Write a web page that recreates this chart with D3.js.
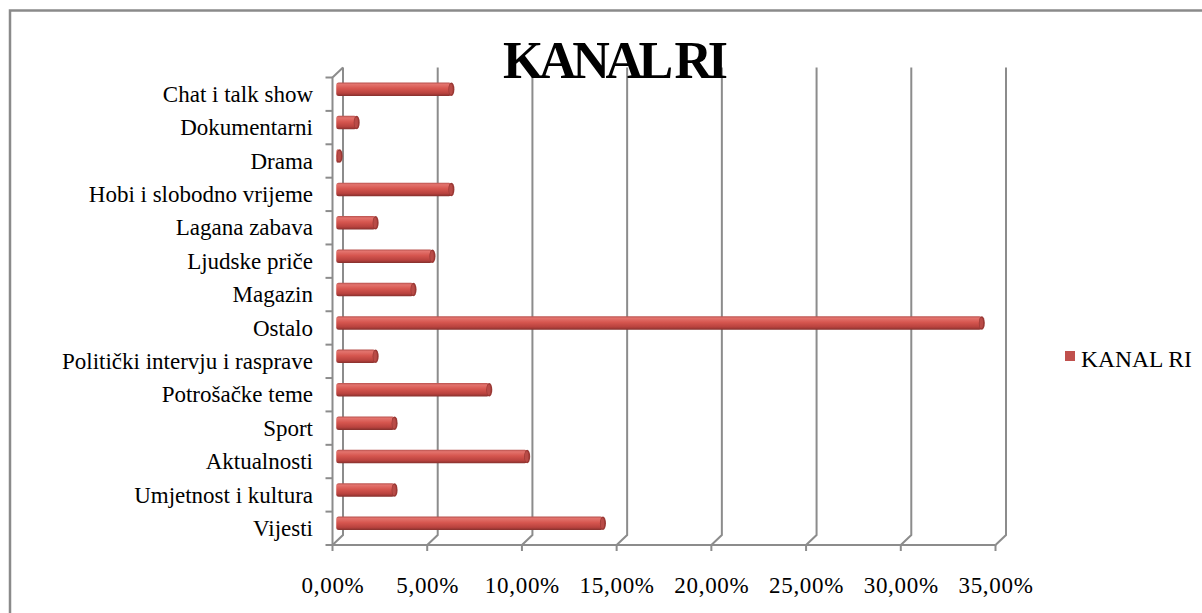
<!DOCTYPE html>
<html lang="hr">
<head>
  <meta charset="UTF-8">
  <title>KANAL RI</title>
  <script src="https://d3js.org/d3.v7.min.js"></script>
  <style>
    body { margin: 0; background: #fff; }
    text { font-family: "Liberation Serif", "Times New Roman", serif; fill: #000; }
    .grid, .axis { stroke: #8c8c8c; stroke-width: 2; fill: none; }
  </style>
</head>
<body>
  <svg width="1202" height="613"></svg>
  <script>
    // Data (percent of programme time)
    const categories = [
      "Chat i talk show", "Dokumentarni", "Drama", "Hobi i slobodno vrijeme",
      "Lagana zabava", "Ljudske priče", "Magazin", "Ostalo",
      "Politički intervju i rasprave", "Potrošačke teme", "Sport",
      "Aktualnosti", "Umjetnost i kultura", "Vijesti"
    ];
    const values = [6, 1, 0.1, 6, 2, 5, 4, 34, 2, 8, 3, 10, 3, 14];
    const xTicks = [0, 5, 10, 15, 20, 25, 30, 35];
    const seriesName = "KANAL RI";
    const chartTitle = "KANAL RI";

    const svg = d3.select("svg");

    // 3D depth offset of the back wall
    const dx = 10.5, dy = -10;

    const x = d3.scaleLinear().domain([0, 35]).range([332.5, 995.5]);
    const y = d3.scaleBand().domain(categories).range([77.5, 545]);
    const yBottom = 545, yTop = 77.5;

    const hr = d3.formatLocale({decimal: ",", thousands: ".", grouping: [3], currency: ["", ""]});
    const fmt = v => hr.format(".2f")(v) + "%";

    // outer frame
    svg.append("rect")
      .attr("x", 10).attr("y", 10.5)
      .attr("width", 1210).attr("height", 620)
      .attr("fill", "none")
      .attr("stroke", "#8a8a8a")
      .attr("stroke-width", 2.5);

    // back wall gridlines with floor diagonals
    const grid = svg.append("g");
    xTicks.forEach(t => {
      grid.append("path")
        .attr("class", "grid")
        .attr("d", `M${x(t)},${yBottom} L${x(t) + dx},${yBottom + dy} L${x(t) + dx},${yTop + dy}`);
    });

    // front axes
    const axis = svg.append("g");
    axis.append("path")
      .attr("class", "axis")
      .attr("d", `M${x(0) + dx},${yTop + dy} L${x(0)},${yTop} L${x(0)},${yBottom} L${x(35)},${yBottom}`);
    // y ticks at band edges
    const edges = categories.map(c => y(c)).concat([yBottom]);
    edges.forEach(e => {
      axis.append("line").attr("class", "axis")
        .attr("x1", x(0) - 7).attr("x2", x(0))
        .attr("y1", e).attr("y2", e);
    });
    xTicks.forEach(t => {
      axis.append("line").attr("class", "axis")
        .attr("x1", x(t)).attr("x2", x(t))
        .attr("y1", yBottom).attr("y2", yBottom + 6);
    });

    // bar gradient (cylinder look)
    const defs = svg.append("defs");
    const grad = defs.append("linearGradient")
      .attr("id", "barGrad").attr("x1", 0).attr("y1", 0).attr("x2", 0).attr("y2", 1);
    [[0, "#b8524e"], [0.15, "#e3736d"], [0.45, "#d6564f"], [0.8, "#b8423e"], [1, "#85302d"]]
      .forEach(([o, c]) => grad.append("stop").attr("offset", o).attr("stop-color", c));

    const barH = 13.5;
    const bars = svg.append("g");
    categories.forEach((c, i) => {
      const cy = y(c) + y.bandwidth() / 2 + dy / 2;
      const x0 = x(0) + dx / 2, x1 = x(values[i]) + dx / 2;
      bars.append("rect")
        .attr("x", x0 - 1.5).attr("y", cy - barH / 2)
        .attr("width", Math.max(x1 - x0, 0) + 1.5).attr("height", barH)
        .attr("rx", 2.5)
        .attr("fill", "url(#barGrad)");
      bars.append("ellipse")
        .attr("cx", x1).attr("cy", cy)
        .attr("rx", 3).attr("ry", barH / 2)
        .attr("fill", "#9a3834");
      bars.append("ellipse")
        .attr("cx", x1 - 0.5).attr("cy", cy)
        .attr("rx", 1.8).attr("ry", barH / 2 - 1.5)
        .attr("fill", "#b94b47");
    });

    // category labels
    svg.append("g").selectAll("text")
      .data(categories)
      .enter().append("text")
        .attr("x", 313)
        .attr("y", d => y(d) + y.bandwidth() / 2)
        .attr("dy", "0.33em")
        .attr("text-anchor", "end")
        .style("font-size", "23px")
        .text(d => d);

    // x tick labels
    svg.append("g").selectAll("text")
      .data(xTicks)
      .enter().append("text")
        .attr("x", d => x(d) + 0.5)
        .attr("y", 593)
        .attr("text-anchor", "middle")
        .style("font-size", "23px")
        .style("letter-spacing", "0.7px")
        .text(fmt);

    // title
    svg.append("text")
      .attr("x", 615.5).attr("y", 78)
      .attr("text-anchor", "middle")
      .attr("textLength", 225).attr("lengthAdjust", "spacing")
      .style("font-size", "52px").style("font-weight", "bold")
      .text(chartTitle);

    // legend
    svg.append("rect")
      .attr("x", 1065).attr("y", 351)
      .attr("width", 10).attr("height", 10)
      .attr("fill", "#c0504d");
    svg.append("text")
      .attr("x", 1081).attr("y", 366.5)
      .style("font-size", "23.5px")
      .text(seriesName);
  </script>
</body>
</html>
